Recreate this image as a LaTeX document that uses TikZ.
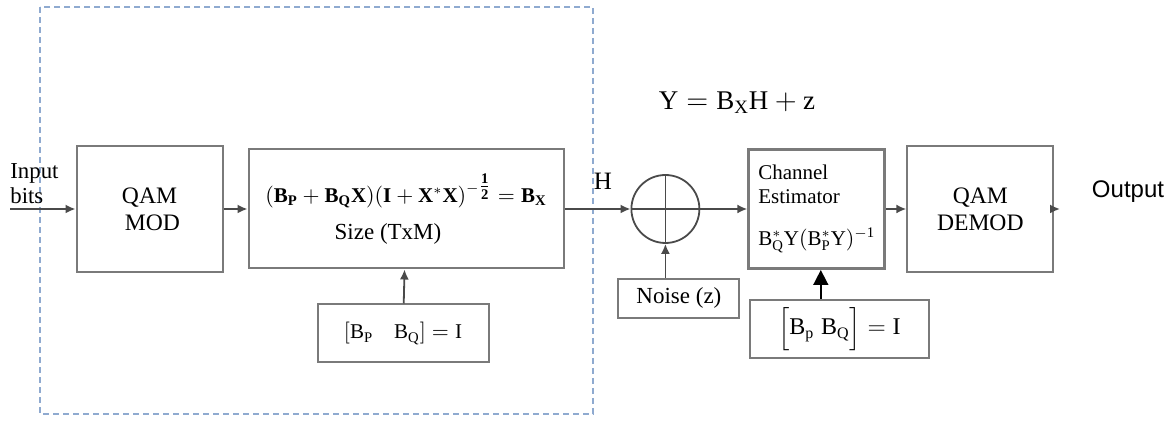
\documentclass[tikz,border=0pt]{standalone}
\usepackage{amsmath}
\usepackage{fontspec}
\setmainfont{Liberation Serif}
\newfontfamily\outfont{Liberation Sans}
\usetikzlibrary{arrows.meta, positioning, calc}
\definecolor{boxgray}{HTML}{7A7A7A}
\definecolor{linegray}{HTML}{4A4A4A}
\definecolor{dashblue}{HTML}{8FAAD0}

\begin{document}
\begin{tikzpicture}[
    x=0.5pt, y=-0.5pt,
    box/.style={draw=boxgray, line width=1pt, align=center, inner sep=2pt},
    qam/.style={box, minimum width=73pt, minimum height=63pt, font=\fontsize{11.8}{13.5}\selectfont},
    mapbox/.style={box, minimum width=157.5pt, minimum height=59.5pt, font=\fontsize{10.5}{12.5}\selectfont},
    estbox/.style={box, line width=1.5pt, minimum width=68pt, minimum height=59.5pt, align=left, font=\fontsize{10.5}{12}\selectfont},
    orthbox/.style={box, minimum height=29pt},
    adder/.style={circle, draw=linegray, line width=0.9pt, minimum size=34pt, inner sep=0pt},
    arrow/.style={-{Latex[length=5pt, width=4.5pt]}, line width=0.9pt, linegray},
    bigarrow/.style={-{Triangle[length=7.5pt, width=7.5pt]}, line width=0.8pt, black},
    dashbox/.style={dashblue, line width=0.8pt, dash pattern=on 3pt off 2pt},
]
\useasboundingbox (0,0) rectangle (1172,421);
% Transmitter part
\draw[dashbox] (40,7) rectangle (593,414);
\node[qam] (qammod) at (149.5,209) {QAM\\\ MOD};
\node[mapbox, right=12pt of qammod] (mapper)
    {$(\mathbf{B_P}+\mathbf{B_Q}\mathbf{X})(\mathbf{I}+\mathbf{X}^{*}\mathbf{X})^{-\textstyle\frac{\mathbf{1}}{\mathbf{2}}}=\mathbf{B_X}$\\[6pt]
     \hspace*{-18pt}\fontsize{11.5}{13}\selectfont Size (TxM)};
\node[orthbox, minimum width=85.5pt, below=17pt of mapper, xshift=-1.5pt, font=\fontsize{10.5}{12}\selectfont] (orth)
    {$\left[\mathrm{B_P}\quad\mathrm{B_Q}\right]=\mathrm{I}$};
\node[anchor=west, align=left, inner sep=0pt, font=\fontsize{11.4}{12.5}\selectfont] (inlab) at (10,184) {Input\\bits};
\coordinate (inbits) at (10,209);
\draw[arrow] (inbits) -- (qammod.west);
\draw[arrow] (qammod) -- (mapper);
\draw[arrow] (orth) -- (mapper);
% Channel
\node[adder, right=33pt of mapper] (adder) {};
\draw[linegray, line width=0.9pt] (adder.north) -- (adder.south) (adder.west) -- (adder.east);
\node[box, minimum width=60.5pt, minimum height=19.5pt, below=17pt of adder, xshift=6.75pt, font=\fontsize{11.5}{13}\selectfont] (noise) {Noise (z)};
\node[font=\fontsize{12.5}{14}\selectfont, inner sep=0pt] (hlab) at (603,181) {H};
\node[font=\fontsize{13.5}{15}\selectfont, inner sep=0pt] (yeq) at (737,103) {$\mathrm{Y}=\mathrm{B_X}\mathrm{H}+\mathrm{z}$};
\draw[arrow] (mapper) -- (adder);
\draw[arrow] (adder.south |- noise.north) -- (adder.south);
% Receiver part
\node[estbox, right=23.5pt of adder] (chest)
    {Channel\\Estimator\\[9pt]$\mathrm{B_Q^{*}Y(B_P^{*}Y)^{-1}}$};
\node[orthbox, minimum width=89.5pt, below=14.5pt of chest, xshift=11.25pt, font=\fontsize{12}{14}\selectfont] (orth2)
    {$\Bigl[\mathrm{B_p}\;\mathrm{B_Q}\Bigr]=\mathrm{I}$};
\node[qam, minimum height=63pt, right=10pt of chest] (demod) {QAM\\DEMOD};
\node[font=\outfont\fontsize{12}{14}\selectfont, inner sep=0pt] (outlab) at (1128,192) {Output};
\coordinate (outend) at (1060,209);
\draw[arrow] (adder) -- (chest);
\draw[bigarrow] ([xshift=2pt]chest.south |- orth2.north) -- ([xshift=2pt]chest.south);
\draw[arrow] (chest) -- (demod);
\draw[arrow] (demod.east) -- (outend);
\end{tikzpicture}
\end{document}
